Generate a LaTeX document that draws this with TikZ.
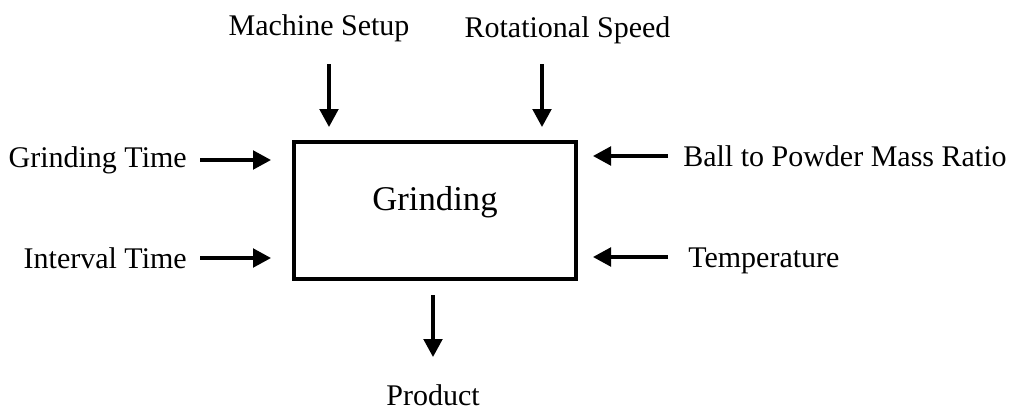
\documentclass[tikz,border=0pt]{standalone}
\usepackage{fontspec}
\setmainfont{Liberation Serif}
\usetikzlibrary{arrows.meta}

\tikzset{
	lbl/.style={inner sep=0pt, font=\fontsize{22.5}{27}\selectfont},
	procbox/.style={draw, line width=2.4pt, minimum width=211.5pt, minimum height=102.75pt, text height=9pt, text depth=9pt, inner sep=0pt, font=\fontsize{26}{31}\selectfont},
	flow/.style={line width=2.4pt, -{Triangle[length=13.5pt,width=14pt]}}
}

\begin{document}
\begin{tikzpicture}[x=0.75pt,y=0.75pt,yscale=-1,xscale=1]
		\useasboundingbox (0,0) rectangle (1011,414);
		
		%Shape: Rectangle [id:grind] 
		\node [procbox] (grind) at (435,210.5) {Grinding};
		
		% Text Node
		\node [lbl, anchor=base] (msetup) at (319,36) {Machine Setup};
		% Text Node
		\node [lbl, anchor=base] (rspeed) at (567.5,37) {Rotational Speed};
		% Text Node
		\node [lbl, anchor=base east] (gtime) at (187,167) {Grinding Time};
		% Text Node
		\node [lbl, anchor=base east] (itime) at (187,268) {Interval Time};
		% Text Node
		\node [lbl, anchor=base west] (bpr) at (683,166) {Ball to Powder Mass Ratio};
		% Text Node
		\node [lbl, anchor=base west] (temp) at (688,267) {Temperature};
		% Text Node
		\node [lbl, anchor=base] (product) at (433,405) {Product};
		
		% arrow ends
		\coordinate (msetup_s) at (329,64);
		\coordinate (msetup_e) at (329,127);
		\coordinate (rspeed_s) at (542,64);
		\coordinate (rspeed_e) at (542,127);
		\coordinate (gtime_s) at (200,160);
		\coordinate (gtime_e) at (271,160);
		\coordinate (itime_s) at (200,258);
		\coordinate (itime_e) at (271,258);
		\coordinate (bpr_s) at (668,156);
		\coordinate (bpr_e) at (593,156);
		\coordinate (temp_s) at (668,257);
		\coordinate (temp_e) at (593,257);
		\coordinate (product_s) at (433,295);
		\coordinate (product_e) at (433,357);
		
		%Straight Lines [id:inputs] 
		\draw [flow] (msetup_s) -- (msetup_e);
		\draw [flow] (rspeed_s) -- (rspeed_e);
		\draw [flow] (gtime_s) -- (gtime_e);
		\draw [flow] (itime_s) -- (itime_e);
		\draw [flow] (bpr_s) -- (bpr_e);
		\draw [flow] (temp_s) -- (temp_e);
		%Straight Lines [id:output] 
		\draw [flow] (product_s) -- (product_e);
		
\end{tikzpicture}
\end{document}
